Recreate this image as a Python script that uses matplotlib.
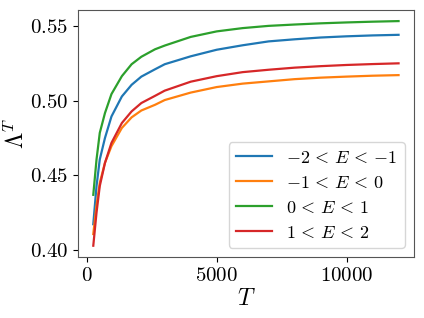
import matplotlib
matplotlib.use("Agg")
import matplotlib.pyplot as plt
from matplotlib.ticker import FuncFormatter, FixedLocator

plt.rcParams['mathtext.fontset'] = 'cm'
plt.rcParams['font.family'] = 'serif'
plt.rcParams['font.serif'] = ['cmr10', 'DejaVu Serif']

T = [250, 375, 500, 700, 950, 1350, 1725, 2100, 2625, 3000, 4000, 5000, 6000, 7000, 8000, 9000, 10000, 11000, 12000]
blue = [0.4173, 0.4429, 0.4607, 0.4751, 0.4895, 0.5029, 0.5107, 0.5162, 0.5211, 0.5245, 0.5298, 0.5342, 0.5372, 0.5398, 0.5412, 0.5424, 0.5432, 0.5438, 0.5442]
orange = [0.4107, 0.4300, 0.4450, 0.4585, 0.4696, 0.4818, 0.4889, 0.4935, 0.4973, 0.5005, 0.5055, 0.5092, 0.5115, 0.5130, 0.5145, 0.5155, 0.5162, 0.5168, 0.5172]
green = [0.4370, 0.4607, 0.4785, 0.4918, 0.5045, 0.5165, 0.5245, 0.5295, 0.5345, 0.5370, 0.5428, 0.5465, 0.5487, 0.5502, 0.5511, 0.5519, 0.5525, 0.5530, 0.5534]
red = [0.4029, 0.4251, 0.4429, 0.4584, 0.4718, 0.4851, 0.4929, 0.4985, 0.5033, 0.5068, 0.5128, 0.5165, 0.5192, 0.5208, 0.5222, 0.5232, 0.5240, 0.5246, 0.5251]
labels = [r'$-2 \,<\, E \,<\,{-1}$', r'$-1 \,<\, E \,<\, 0$', r'$0 \,<\, E \,<\, 1$', r'$1 \,<\, E \,<\, 2$']
xticks = [0, 5000, 10000]
yticks = [0.40, 0.45, 0.50, 0.55]

fig = plt.figure(figsize=(4.24, 3.18), dpi=100)
ax = fig.add_axes([0.184, 0.192, 0.792, 0.777])
for ys, c, lab in zip([blue, orange, green, red], ['C0', 'C1', 'C2', 'C3'], labels):
    ax.plot(T, ys, color=c, lw=1.6, label=lab)

ax.xaxis.set_major_locator(FixedLocator(xticks))
ax.yaxis.set_major_locator(FixedLocator(yticks))
ax.xaxis.set_major_formatter(FuncFormatter(lambda v, p: r'$%d$' % v))
ax.yaxis.set_major_formatter(FuncFormatter(lambda v, p: r'$%.2f$' % v))
ax.tick_params(labelsize=15)
ax.set_xlabel(r'$T$', fontsize=17, labelpad=2)
ax.set_ylabel(r'$\Lambda^T$', fontsize=17, labelpad=0.5)
for s in ax.spines.values():
    s.set_color('#555555')
ax.legend(loc='lower right', fontsize=13)
fig.savefig('out.png', dpi=100)
